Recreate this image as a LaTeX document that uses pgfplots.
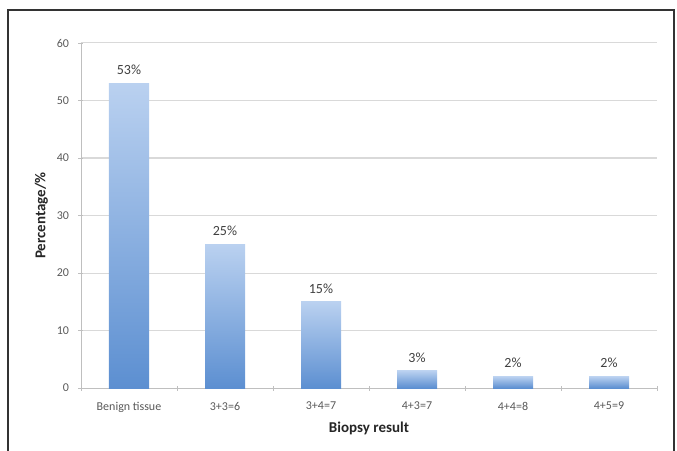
\documentclass[border=0pt]{standalone}
\usepackage{pgfplots}
\pgfplotsset{compat=1.18}
\usepackage{fontspec}
\setmainfont{Carlito}
\definecolor{tickgray}{HTML}{595959}
\definecolor{gridgray}{HTML}{D9D9D9}
\definecolor{axgray}{HTML}{BFBFBF}
\definecolor{bartop}{HTML}{BAD1F0}
\definecolor{barbot}{HTML}{5C8FD1}
\pgfplotsset{mybar/.style={ybar, bar width=40pt, bar shift=0pt, draw=none,
  top color=bartop, bottom color=barbot,
  nodes near coords={\pgfmathprintnumber{\pgfplotspointmeta}\%},
  every node near coord/.append style={font=\fontsize{14}{15}\selectfont, text=black!75, yshift=5pt}}}
\begin{document}
\begin{tikzpicture}
\begin{axis}[
  at={(0,0)}, anchor=south west,
  scale only axis,
  width=576pt, height=345pt,
  xmin=-0.5, xmax=5.5,
  ymin=0, ymax=60,
  ytick={0,10,...,60},
  xtick={0,...,5},
  xticklabels={Benign tissue,3+3=6,3+4=7,4+3=7,4+4=8,4+5=9},
  minor xtick={-0.5,0.5,...,5.5},
  major x tick style={draw=none},
  minor x tick style={axgray, line width=0.8pt},
  minor tick length=5pt,
  y tick style={axgray, line width=0.8pt},
  major tick length=5pt,
  tick align=outside,
  axis lines=left,
  axis line style={axgray, line width=0.8pt, -},
  ymajorgrids,
  grid style={gridgray, line width=1pt},
  /pgf/number format/assume math mode=true,
  tick label style={font=\fontsize{12}{13}\selectfont, text=tickgray},
  xticklabel style={yshift=-8pt},
  yticklabel style={xshift=-6pt},
  xlabel={\textbf{Biopsy result}},
  ylabel={\textbf{Percentage/\%}},
  label style={font=\fontsize{15}{16}\selectfont, text=black!85},
  ylabel style={yshift=2pt},
  xlabel style={yshift=-3pt},
  clip=false,
]
\addplot[mybar] coordinates {(0,53)};
\addplot[mybar] coordinates {(1,25)};
\addplot[mybar] coordinates {(2,15)};
\addplot[mybar] coordinates {(3,3)};
\addplot[mybar] coordinates {(4,2)};
\addplot[mybar] coordinates {(5,2)};
\end{axis}
\pgfresetboundingbox
\path[use as bounding box] (-81pt,-62pt) rectangle (596pt,388pt);
\draw[color=black!80, line width=1.2pt] (-73pt,-70pt) -- (-73pt,378pt) -- (593pt,378pt) -- (593pt,-70pt);
\end{tikzpicture}
\end{document}
